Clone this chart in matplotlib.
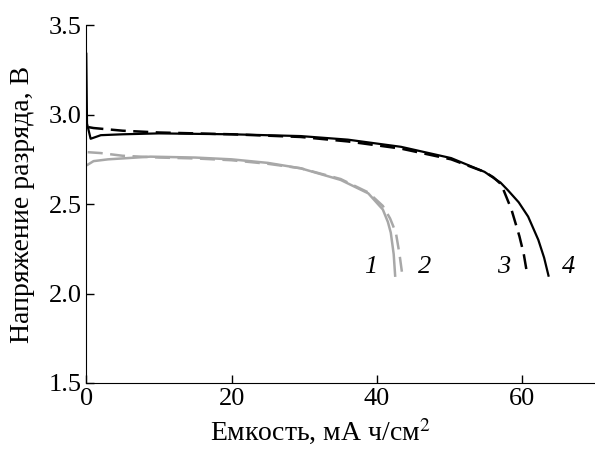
import matplotlib
matplotlib.use("Agg")
import matplotlib.pyplot as plt

plt.rcParams['font.family'] = ['Liberation Serif', 'DejaVu Serif']
plt.rcParams['mathtext.fontset'] = 'stix'

# curve 1 - gray solid
x1 = [0.2, 1, 3, 8.8, 15, 20, 25, 29.5, 35, 38.8, 40.8, 41.5, 41.9, 42.3, 42.5]
y1 = [2.72, 2.74, 2.75, 2.765, 2.76, 2.75, 2.73, 2.70, 2.635, 2.56, 2.47, 2.40, 2.34, 2.22, 2.10]
# curve 2 - gray dashed
x2 = [0.2, 2, 5, 10, 15, 20, 25, 29.5, 35, 38.8, 40.8, 41.8, 42.6, 43.1, 43.5]
y2 = [2.79, 2.785, 2.77, 2.76, 2.755, 2.745, 2.725, 2.70, 2.64, 2.565, 2.49, 2.42, 2.34, 2.22, 2.10]
# curve 3 - black dashed
x3 = [0.3, 1, 5, 10, 20, 29.5, 36, 43.3, 50.2, 54.8, 56, 57.1, 58.5, 59.6, 60.2, 60.7]
y3 = [2.93, 2.925, 2.91, 2.90, 2.89, 2.875, 2.85, 2.81, 2.75, 2.68, 2.65, 2.61, 2.47, 2.32, 2.22, 2.10]
# curve 4 - black solid
x4 = [0, 0.1, 0.6, 2, 5, 10, 20, 29.5, 36, 43.3, 50.2, 54.8, 57, 58, 59.5, 60.8, 62.2, 63, 63.6]
y4 = [3.34, 2.95, 2.865, 2.885, 2.89, 2.895, 2.89, 2.88, 2.86, 2.82, 2.757, 2.68, 2.62, 2.578, 2.51, 2.43, 2.30, 2.20, 2.10]

labels = ["1", "2", "3", "4"]
label_x = [39.2, 46.6, 57.5, 66.3]
label_y = [2.15, 2.15, 2.15, 2.15]

gray = "#a8a8a8"

fig = plt.figure(figsize=(5.95, 4.49), dpi=100)
ax = fig.add_axes([0.145, 0.147, 0.855, 0.797])

ax.plot(x1, y1, color=gray, lw=1.8)
ax.plot(x2, y2, color=gray, lw=1.8, dashes=(6, 3))
ax.plot(x3, y3, color="black", lw=1.8, dashes=(6, 3))
ax.plot(x4, y4, color="black", lw=1.6)

for lab, lx, ly in zip(labels, label_x, label_y):
    ax.text(lx, ly, lab, fontsize=19, style='italic', ha='center', va='center')

ax.set_xlim(0, 70)
ax.set_ylim(1.5, 3.5)
ax.set_xticks([0, 20, 40, 60])
ax.set_yticks([1.5, 2.0, 2.5, 3.0, 3.5])
ax.set_yticklabels(["1.5", "2.0", "2.5", "3.0", "3.5"])
ax.spines['top'].set_visible(False)
ax.spines['right'].set_visible(False)
ax.tick_params(direction='in', length=6, labelsize=19, width=1)
ax.set_xlabel("Емкость, мА ч/см$^2$", fontsize=20)
ax.xaxis.set_label_coords(0.46, -0.095)
ax.set_ylabel("Напряжение разряда, В", fontsize=20, labelpad=10)

fig.savefig("out.png", dpi=100)
